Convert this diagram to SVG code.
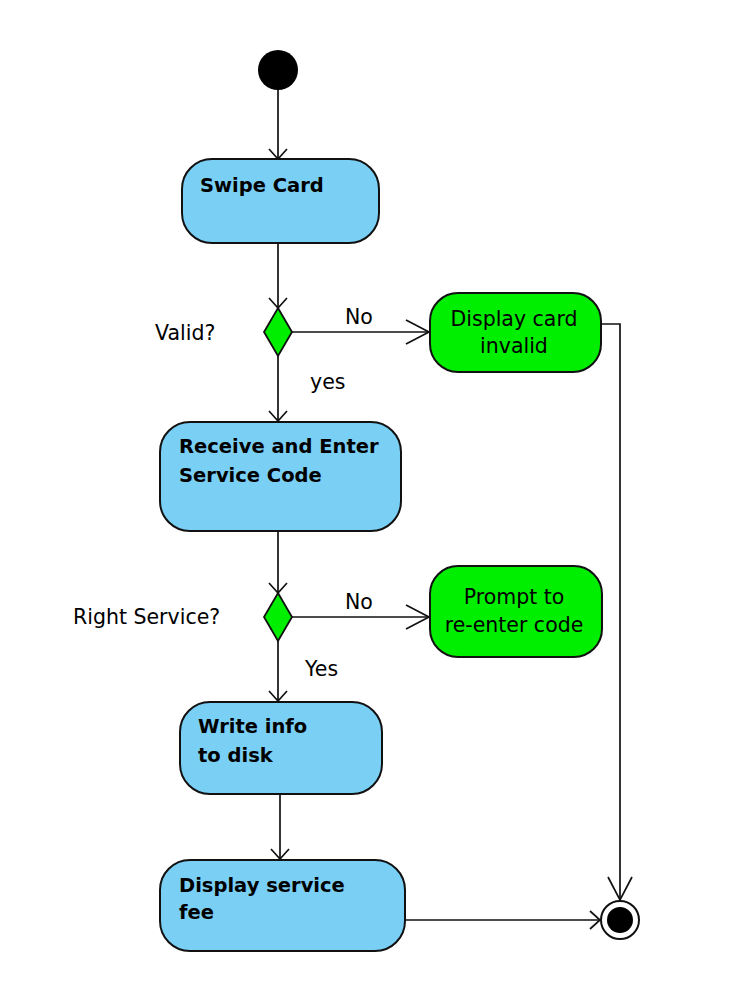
<svg xmlns="http://www.w3.org/2000/svg" width="730" height="1006" viewBox="0 0 730 1006">
<defs>
<style>
.act{fill:#7ACFF5;stroke:#111;stroke-width:2}
.alt{fill:#00EE00;stroke:#111;stroke-width:2}
.dec{fill:#00EE00;stroke:#111;stroke-width:1.8}
.bt{font-family:"DejaVu Sans",sans-serif;font-weight:bold;font-size:19.5px;fill:#000}
.rt{font-family:"DejaVu Sans",sans-serif;font-size:20.5px;fill:#000}
.ct{font-family:"DejaVu Sans",sans-serif;font-size:20.5px;fill:#000;text-anchor:middle}
.edge{fill:none;stroke:#111;stroke-width:1.7}
</style>
<marker id="sa" markerUnits="userSpaceOnUse" markerWidth="24" markerHeight="24" viewBox="-12 -12 24 24" refX="0" refY="0" orient="auto">
<path d="M-10,-9 L0,0 L-10,9" fill="none" stroke="#111" stroke-width="1.7"/>
</marker>
<marker id="la" markerUnits="userSpaceOnUse" markerWidth="30" markerHeight="30" viewBox="-26 -15 30 30" refX="0" refY="0" orient="auto">
<path d="M-23,-12 L0,0 L-23,12" fill="none" stroke="#111" stroke-width="1.7"/>
</marker>
</defs>
<rect width="730" height="1006" fill="#fff"/>
<g id="connectors">
<line class="edge" x1="278" y1="90" x2="278" y2="159" marker-end="url(#sa)"/>
<line class="edge" x1="278" y1="243" x2="278" y2="308" marker-end="url(#sa)"/>
<line class="edge" x1="292" y1="332" x2="429" y2="332" marker-end="url(#la)"/>
<line class="edge" x1="278" y1="356" x2="278" y2="421" marker-end="url(#sa)"/>
<polyline class="edge" points="601,324 620,324 620,900" marker-end="url(#la)"/>
<line class="edge" x1="278" y1="531" x2="278" y2="593" marker-end="url(#sa)"/>
<line class="edge" x1="292" y1="617" x2="429" y2="617" marker-end="url(#la)"/>
<line class="edge" x1="278" y1="641" x2="278" y2="701" marker-end="url(#sa)"/>
<line class="edge" x1="280" y1="794" x2="280" y2="859" marker-end="url(#sa)"/>
<line class="edge" x1="405" y1="920" x2="600" y2="920" marker-end="url(#sa)"/>
<text class="rt" x="345" y="324">No</text>
<text class="rt" x="310" y="389">yes</text>
<text class="rt" x="345" y="609">No</text>
<text class="rt" x="305" y="676">Yes</text>
</g>
<g id="start"><circle cx="278" cy="70" r="20" fill="#000"/></g>
<g id="swipe">
<rect class="act" x="182" y="159" width="197" height="84" rx="30"/>
<text class="bt" x="200" y="192">Swipe Card</text>
</g>
<g id="valid">
<polygon class="dec" points="278,308 292,332 278,356 264,332"/>
<text class="rt" x="155" y="340">Valid?</text>
</g>
<g id="invalid">
<rect class="alt" x="430" y="293" width="171" height="79" rx="28"/>
<text class="ct" x="514" y="326">Display card</text>
<text class="ct" x="514" y="353">invalid</text>
</g>
<g id="receive">
<rect class="act" x="160" y="422" width="241" height="109" rx="30"/>
<text class="bt" x="179" y="453">Receive and Enter</text>
<text class="bt" x="179" y="482">Service Code</text>
</g>
<g id="right">
<polygon class="dec" points="278,593 292,617 278,641 264,617"/>
<text class="rt" x="73" y="624">Right Service?</text>
</g>
<g id="prompt">
<rect class="alt" x="430" y="566" width="172" height="91" rx="28"/>
<text class="ct" x="514" y="604">Prompt to</text>
<text class="ct" x="514" y="632">re-enter code</text>
</g>
<g id="write">
<rect class="act" x="180" y="702" width="202" height="92" rx="30"/>
<text class="bt" x="198" y="733">Write info</text>
<text class="bt" x="198" y="762">to disk</text>
</g>
<g id="fee">
<rect class="act" x="160" y="860" width="245" height="91" rx="30"/>
<text class="bt" x="179" y="892">Display service</text>
<text class="bt" x="179" y="919">fee</text>
</g>
<g id="end">
<circle cx="620" cy="920" r="19" fill="#fff" stroke="#111" stroke-width="2"/>
<circle cx="620" cy="920" r="13" fill="#000"/>
</g>
</svg>
